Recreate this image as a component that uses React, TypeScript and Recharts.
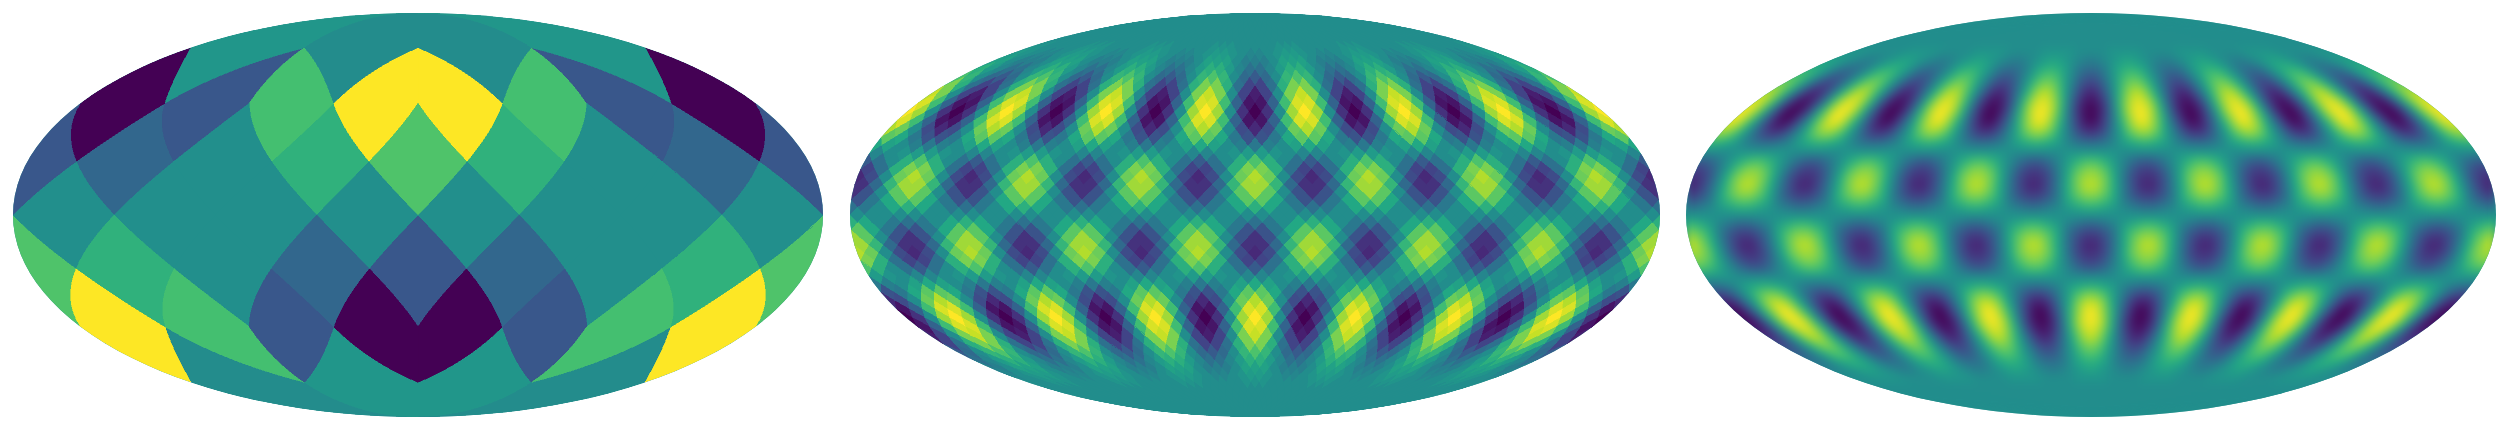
import { ScatterChart, Scatter, XAxis, YAxis } from "recharts";

// colours read per sky pixel, one row per base face: [x0y0, x1y0, x0y1, x1y1]
const coarseFaces = [
  [0.64, 0.7, 1.0, 0.48],
  [0.33, 0.0, 0.27, 0.52],
  [0.33, 0.27, 0.0, 0.52],
  [0.64, 1.0, 0.7, 0.48],
  [0.27, 0.49, 0.49, 0.72],
  [0.49, 0.49, 0.49, 0.49],
  [0.72, 0.49, 0.49, 0.27],
  [0.49, 0.49, 0.49, 0.49],
  [0.52, 0.27, 0.0, 0.33],
  [0.48, 1.0, 0.7, 0.64],
  [0.48, 0.7, 1.0, 0.64],
  [0.52, 0.0, 0.27, 0.33],
];

// one string per ring, north to south, one base-36 level per diamond
const mediumRings = [
  "hhhhhhhhhhhhhhhhhhhhhhhhhhhhhhhhhhhhhhhhhhhhhhhhhhhhhhhh",
  "hhhhhhhhhhhhhhhhhhhhhhhhhhhhhhhhhhhhhhhhhhhhhhhhhhhhhhhh",
  "hhhhhhhhhhhhhhhhhhhhhhhhhhhhhhhhhhhhhhhhhhhhhhhhhhhhhhhh",
  "hhhhhhhhhhhhhhhhhhhhhhhhhhhhhhhhhhhhhhhhhhhhhhhhhhhhhhhh",
  "hhhhhhhhhhhhhhhhhhhhhhhhhhhhhhhhhhhhhhhhhhhhhhhhhhhhhhhh",
  "hhhhhhhhhhhhhhhhhhhhhhhhhhhhhhhhhhhhhhhhhhhhhhhhhhhhhhhh",
  "iihhhhhiiihhhhhiiihhhhhiiihhhhhiiihhhhhiiihhhhhiiihhhhhi",
  "jihgghijjihgghijjihgghijjihgghijjihgghijjihgghijjihgghij",
  "kkhfffhkkkhfffhkkkhfffhkkkhfffhkkkhfffhkkkhfffhkkkhfffhk",
  "mjgddgjmmjgddgjmmjgddgjmmjgddgjmmjgddgjmmjgddgjmmjgddgjm",
  "pnhcachnpnhcachnpnhcachnpnhcachnpnhcachnpnhcachnpnhcachn",
  "smd77dmssmd77dmssmd77dmssmd77dmssmd77dmssmd77dmssmd77dms",
  "wsh737hswsh737hswsh737hswsh737hswsh737hswsh737hswsh737hs",
  "xob22boxxob22boxxob22boxxob22boxxob22boxxob22boxxob22box",
  "zuh505huzuh505huzuh505huzuh505huzuh505huzuh505huzuh505hu",
  "xob22boxxob22boxxob22boxxob22boxxob22boxxob22boxxob22box",
  "vrh848hrvrh848hrvrh848hrvrh848hrvrh848hrvrh848hrvrh848hr",
  "qle99elqqle99elqqle99elqqle99elqqle99elqqle99elqqle99elq",
  "lkhfefhklkhfefhklkhfefhklkhfefhklkhfefhklkhfefhklkhfefhk",
  "ghijjihgghijjihgghijjihgghijjihgghijjihgghijjihgghijjihg",
  "adhmpmhdadhmpmhdadhmpmhdadhmpmhdadhmpmhdadhmpmhdadhmpmhd",
  "7dmssmd77dmssmd77dmssmd77dmssmd77dmssmd77dmssmd77dmssmd7",
  "48hrvrh848hrvrh848hrvrh848hrvrh848hrvrh848hrvrh848hrvrh8",
  "5cnuunc55cnuunc55cnuunc55cnuunc55cnuunc55cnuunc55cnuunc5",
  "59hquqh959hquqh959hquqh959hquqh959hquqh959hquqh959hquqh9",
  "9elqqle99elqqle99elqqle99elqqle99elqqle99elqqle99elqqle9",
  "dehlmlhedehlmlhedehlmlhedehlmlhedehlmlhedehlmlhedehlmlhe",
  "hhhhhhhhhhhhhhhhhhhhhhhhhhhhhhhhhhhhhhhhhhhhhhhhhhhhhhhh",
  "mlhedehlmlhedehlmlhedehlmlhedehlmlhedehlmlhedehlmlhedehl",
  "qle99elqqle99elqqle99elqqle99elqqle99elqqle99elqqle99elq",
  "uqh959hquqh959hquqh959hquqh959hquqh959hquqh959hquqh959hq",
  "unc55cnuunc55cnuunc55cnuunc55cnuunc55cnuunc55cnuunc55cnu",
  "vrh848hrvrh848hrvrh848hrvrh848hrvrh848hrvrh848hrvrh848hr",
  "smd77dmssmd77dmssmd77dmssmd77dmssmd77dmssmd77dmssmd77dms",
  "pmhdadhmpmhdadhmpmhdadhmpmhdadhmpmhdadhmpmhdadhmpmhdadhm",
  "jihgghijjihgghijjihgghijjihgghijjihgghijjihgghijjihgghij",
  "efhklkhfefhklkhfefhklkhfefhklkhfefhklkhfefhklkhfefhklkhf",
  "9elqqle99elqqle99elqqle99elqqle99elqqle99elqqle99elqqle9",
  "48hrvrh848hrvrh848hrvrh848hrvrh848hrvrh848hrvrh848hrvrh8",
  "2boxxob22boxxob22boxxob22boxxob22boxxob22boxxob22boxxob2",
  "05huzuh505huzuh505huzuh505huzuh505huzuh505huzuh505huzuh5",
  "2boxxob22boxxob22boxxob22boxxob22boxxob22boxxob22boxxob2",
  "37hswsh737hswsh737hswsh737hswsh737hswsh737hswsh737hswsh7",
  "7dmssmd77dmssmd77dmssmd77dmssmd77dmssmd77dmssmd77dmssmd7",
  "achnpnhcachnpnhcachnpnhcachnpnhcachnpnhcachnpnhcachnpnhc",
  "dgjmmjgddgjmmjgddgjmmjgddgjmmjgddgjmmjgddgjmmjgddgjmmjgd",
  "ffhkkkhfffhkkkhfffhkkkhfffhkkkhfffhkkkhfffhkkkhfffhkkkhf",
  "ghijjihgghijjihgghijjihgghijjihgghijjihgghijjihgghijjihg",
  "hhhiiihhhhhiiihhhhhiiihhhhhiiihhhhhiiihhhhhiiihhhhhiiihh",
  "hhhhhhhhhhhhhhhhhhhhhhhhhhhhhhhhhhhhhhhhhhhhhhhhhhhhhhhh",
  "hhhhhhhhhhhhhhhhhhhhhhhhhhhhhhhhhhhhhhhhhhhhhhhhhhhhhhhh",
  "hhhhhhhhhhhhhhhhhhhhhhhhhhhhhhhhhhhhhhhhhhhhhhhhhhhhhhhh",
  "hhhhhhhhhhhhhhhhhhhhhhhhhhhhhhhhhhhhhhhhhhhhhhhhhhhhhhhh",
  "hhhhhhhhhhhhhhhhhhhhhhhhhhhhhhhhhhhhhhhhhhhhhhhhhhhhhhhh",
  "hhhhhhhhhhhhhhhhhhhhhhhhhhhhhhhhhhhhhhhhhhhhhhhhhhhhhhhh",
];

// one string per row, north to south, west to east
const fineRows = [
  "hhhhhhhhhhhhhhhhhhhhhhhhhhhhhhhhhhhhhhhhhhhhhhhhhhhhhhhhhhhhhhhhhhhhhhhhhhhhhhhhhhhh",
  "hhhhhhhhhhhhhhhhhhhhhhhhhhhhhhhhhhhhhhhhhhhhhhhhhhhhhhhhhhhhhhhhhhhhhhhhhhhhhhhhhhhh",
  "hhhhhhhhhhhhhhhhhhhhhhhhhhhhhhhhhhhhhhhhhhhhhhhhhhhhhhhhhhhhhhhhhhhhhhhhhhhhhhhhhhhh",
  "hhhhhhhhhhhhhhhhhhhhhhhhhhhhhhhhhhhhhhhhhhhhhhhhhhhhhhhhhhhhhhhhhhhhhhhhhhhhhhhhhhhh",
  "iiihhhhhhiiiiiihhhhhhiiiiiihhhhhhiiiiiihhhhhhiiiiiihhhhhhiiiiiihhhhhhiiiiiihhhhhhiii",
  "kjihgffghijkkjihgffghijkkjihgffghijkkjihgffghijkkjihgffghijkkjihgffghijkkjihgffghijk",
  "mljgeddegjlmmljgeddegjlmmljgeddegjlmmljgeddegjlmmljgeddegjlmmljgeddegjlmmljgeddegjlm",
  "pnjgcaacgjnppnjgcaacgjnppnjgcaacgjnppnjgcaacgjnppnjgcaacgjnppnjgcaacgjnppnjgcaacgjnp",
  "spkfa77afkpsspkfa77afkpsspkfa77afkpsspkfa77afkpsspkfa77afkpsspkfa77afkpsspkfa77afkps",
  "vrle8448elrvvrle8448elrvvrle8448elrvvrle8448elrvvrle8448elrvvrle8448elrvvrle8448elrv",
  "xtmd6226dmtxxtmd6226dmtxxtmd6226dmtxxtmd6226dmtxxtmd6226dmtxxtmd6226dmtxxtmd6226dmtx",
  "yumd5115dmuyyumd5115dmuyyumd5115dmuyyumd5115dmuyyumd5115dmuyyumd5115dmuyyumd5115dmuy",
  "ytmd6116dmtyytmd6116dmtyytmd6116dmtyytmd6116dmtyytmd6116dmtyytmd6116dmtyytmd6116dmty",
  "wsle7337elswwsle7337elswwsle7337elswwsle7337elswwsle7337elswwsle7337elswwsle7337elsw",
  "spkfa77afkpsspkfa77afkpsspkfa77afkpsspkfa77afkpsspkfa77afkpsspkfa77afkpsspkfa77afkps",
  "mljgeddegjlmmljgeddegjlmmljgeddegjlmmljgeddegjlmmljgeddegjlmmljgeddegjlmmljgeddegjlm",
  "hhhiiiiiihhhhhhiiiiiihhhhhhiiiiiihhhhhhiiiiiihhhhhhiiiiiihhhhhhiiiiiihhhhhhiiiiiihhh",
  "bdgjmoomjgdbbdgjmoomjgdbbdgjmoomjgdbbdgjmoomjgdbbdgjmoomjgdbbdgjmoomjgdbbdgjmoomjgdb",
  "7afkpsspkfa77afkpsspkfa77afkpsspkfa77afkpsspkfa77afkpsspkfa77afkpsspkfa77afkpsspkfa7",
  "58elruurle8558elruurle8558elruurle8558elruurle8558elruurle8558elruurle8558elruurle85",
  "48elrvvrle8448elrvvrle8448elrvvrle8448elrvvrle8448elrvvrle8448elrvvrle8448elrvvrle84",
  "69elqttqle9669elqttqle9669elqttqle9669elqttqle9669elqttqle9669elqttqle9669elqttqle96",
  "acfknppnkfcaacfknppnkfcaacfknppnkfcaacfknppnkfcaacfknppnkfcaacfknppnkfcaacfknppnkfca",
  "fghijkkjihgffghijkkjihgffghijkkjihgffghijkkjihgffghijkkjihgffghijkkjihgffghijkkjihgf",
  "kjihgffghijkkjihgffghijkkjihgffghijkkjihgffghijkkjihgffghijkkjihgffghijkkjihgffghijk",
  "pnkfcaacfknppnkfcaacfknppnkfcaacfknppnkfcaacfknppnkfcaacfknppnkfcaacfknppnkfcaacfknp",
  "tqle9669elqttqle9669elqttqle9669elqttqle9669elqttqle9669elqttqle9669elqttqle9669elqt",
  "vrle8448elrvvrle8448elrvvrle8448elrvvrle8448elrvvrle8448elrvvrle8448elrvvrle8448elrv",
  "urle8558elruurle8558elruurle8558elruurle8558elruurle8558elruurle8558elruurle8558elru",
  "spkfa77afkpsspkfa77afkpsspkfa77afkpsspkfa77afkpsspkfa77afkpsspkfa77afkpsspkfa77afkps",
  "omjgdbbdgjmoomjgdbbdgjmoomjgdbbdgjmoomjgdbbdgjmoomjgdbbdgjmoomjgdbbdgjmoomjgdbbdgjmo",
  "iiihhhhhhiiiiiihhhhhhiiiiiihhhhhhiiiiiihhhhhhiiiiiihhhhhhiiiiiihhhhhhiiiiiihhhhhhiii",
  "degjlmmljgeddegjlmmljgeddegjlmmljgeddegjlmmljgeddegjlmmljgeddegjlmmljgeddegjlmmljged",
  "7afkpsspkfa77afkpsspkfa77afkpsspkfa77afkpsspkfa77afkpsspkfa77afkpsspkfa77afkpsspkfa7",
  "37elswwsle7337elswwsle7337elswwsle7337elswwsle7337elswwsle7337elswwsle7337elswwsle73",
  "16dmtyytmd6116dmtyytmd6116dmtyytmd6116dmtyytmd6116dmtyytmd6116dmtyytmd6116dmtyytmd61",
  "15dmuyyumd5115dmuyyumd5115dmuyyumd5115dmuyyumd5115dmuyyumd5115dmuyyumd5115dmuyyumd51",
  "26dmtxxtmd6226dmtxxtmd6226dmtxxtmd6226dmtxxtmd6226dmtxxtmd6226dmtxxtmd6226dmtxxtmd62",
  "48elrvvrle8448elrvvrle8448elrvvrle8448elrvvrle8448elrvvrle8448elrvvrle8448elrvvrle84",
  "7afkpsspkfa77afkpsspkfa77afkpsspkfa77afkpsspkfa77afkpsspkfa77afkpsspkfa77afkpsspkfa7",
  "acgjnppnjgcaacgjnppnjgcaacgjnppnjgcaacgjnppnjgcaacgjnppnjgcaacgjnppnjgcaacgjnppnjgca",
  "degjlmmljgeddegjlmmljgeddegjlmmljgeddegjlmmljgeddegjlmmljgeddegjlmmljgeddegjlmmljged",
  "fghijkkjihgffghijkkjihgffghijkkjihgffghijkkjihgffghijkkjihgffghijkkjihgffghijkkjihgf",
  "hhhiiiiiihhhhhhiiiiiihhhhhhiiiiiihhhhhhiiiiiihhhhhhiiiiiihhhhhhiiiiiihhhhhhiiiiiihhh",
  "hhhhhhhhhhhhhhhhhhhhhhhhhhhhhhhhhhhhhhhhhhhhhhhhhhhhhhhhhhhhhhhhhhhhhhhhhhhhhhhhhhhh",
  "hhhhhhhhhhhhhhhhhhhhhhhhhhhhhhhhhhhhhhhhhhhhhhhhhhhhhhhhhhhhhhhhhhhhhhhhhhhhhhhhhhhh",
  "hhhhhhhhhhhhhhhhhhhhhhhhhhhhhhhhhhhhhhhhhhhhhhhhhhhhhhhhhhhhhhhhhhhhhhhhhhhhhhhhhhhh",
  "hhhhhhhhhhhhhhhhhhhhhhhhhhhhhhhhhhhhhhhhhhhhhhhhhhhhhhhhhhhhhhhhhhhhhhhhhhhhhhhhhhhh",
];

const viridisStops = ["#440154", "#482475", "#414487", "#355f8d", "#2a788e", "#21918c", "#22a884", "#44bf70", "#7ad151", "#bddf26", "#fde725"];

const PANEL_W = 810;
const PANEL_H = 404;
const PANEL_TOP = 13;
const panelLefts = [13, 850, 1686];

const hexPart = (c: string, i: number) => parseInt(c.slice(1 + i * 2, 3 + i * 2), 16);
const viridis = (v: number) => {
  const t = Math.min(Math.max(v, 0), 1) * 10;
  const i = Math.min(Math.floor(t), 9);
  const mix = [0, 1, 2].map((k) =>
    Math.round(hexPart(viridisStops[i], k) + (hexPart(viridisStops[i + 1], k) - hexPart(viridisStops[i], k)) * (t - i))
  );
  return `rgb(${mix.join(",")})`;
};

// Mollweide auxiliary angle for z = sin(latitude)
const auxAngle = (z: number) => {
  let lo = -Math.PI / 2;
  let hi = Math.PI / 2;
  for (let i = 0; i < 40; i++) {
    const mid = (lo + hi) / 2;
    if (2 * mid + Math.sin(2 * mid) < Math.PI * z) lo = mid;
    else hi = mid;
  }
  return (lo + hi) / 2;
};
const project = (lon: number, z: number): [number, number] => {
  const a = auxAngle(z);
  return [lon * Math.cos(a), 90 * Math.sin(a)];
};

type Cell = { x: number; y: number; v: number; poly: [number, number][] };

const makeCell = (center: [number, number], corners: [number, number][], v: number): Cell => ({
  x: center[0],
  y: center[1],
  v,
  poly: corners.map(([px, py]) => [px - center[0], py - center[1]]),
});

// sky position of a point on a base face (x, y in 0..1)
const JRLL = [2, 2, 2, 2, 3, 3, 3, 3, 4, 4, 4, 4];
const JPLL = [1, 3, 5, 7, 0, 2, 4, 6, 1, 3, 5, 7];
const faceToSky = (f: number, x: number, y: number): [number, number] => {
  const jr = JRLL[f] - x - y;
  let nr = 1;
  let z = ((2 - jr) * 2) / 3;
  if (jr < 1) {
    nr = jr;
    z = 1 - (nr * nr) / 3;
  } else if (jr > 3) {
    nr = 4 - jr;
    z = (nr * nr) / 3 - 1;
  }
  const tmp = JPLL[f] * nr + x - y;
  return [nr < 1e-9 ? JPLL[f] * 45 : (45 * tmp) / nr, z];
};

const coarseCells: Cell[] = [];
coarseFaces.forEach((vals, f) => {
  vals.forEach((v, idx) => {
    const ix = idx % 2;
    const iy = (idx - ix) / 2;
    const edge: [number, number][] = [];
    const steps = 16;
    for (let s = 0; s < steps; s++) edge.push([ix + s / steps, iy]);
    for (let s = 0; s < steps; s++) edge.push([ix + 1, iy + s / steps]);
    for (let s = 0; s < steps; s++) edge.push([ix + 1 - s / steps, iy + 1]);
    for (let s = 0; s < steps; s++) edge.push([ix, iy + 1 - s / steps]);
    const [phi, zc] = faceToSky(f, (ix + 0.5) / 2, (iy + 0.5) / 2);
    const lonC = ((phi + 180) % 360) - 180;
    const lonCenter = phi === 180 ? 180 : lonC;
    const shifts = phi === 180 ? [0, -360] : [lonCenter - phi];
    shifts.forEach((shift) => {
      const corners = edge.map(([ex, ey]) => {
        const [p, z] = faceToSky(f, ex / 2, ey / 2);
        return project(p + shift, z);
      });
      coarseCells.push(makeCell(project(phi + shift, zc), corners, v));
    });
  });
});

const NS = 14;
const ringZ = (i: number) => {
  if (i <= 0) return 1;
  if (i >= 4 * NS) return -1;
  if (i < NS) return 1 - (i * i) / (3 * NS * NS);
  if (i > 3 * NS) return -1 + ((4 * NS - i) * (4 * NS - i)) / (3 * NS * NS);
  return 4 / 3 - (2 * i) / (3 * NS);
};
const mediumCells: Cell[] = [];
mediumRings.forEach((row, r) => {
  const i = r + 1;
  const s = i % 2 === 0 ? 1 : 0;
  const d = 360 / row.length;
  [...row].forEach((ch, j) => {
    const v = parseInt(ch, 36) / 35;
    const lons = [-180 + (j + s / 2) * d];
    if (s === 0 && j === 0) lons.push(180);
    lons.forEach((lon) => {
      const corners = [
        project(lon, ringZ(i - 1)),
        project(lon + d / 2, ringZ(i)),
        project(lon, ringZ(i + 1)),
        project(lon - d / 2, ringZ(i)),
      ];
      mediumCells.push(makeCell(project(lon, ringZ(i)), corners, v));
    });
  });
});

const fineCells: Cell[] = [];
fineRows.forEach((row, r) => {
  const n = fineRows.length;
  const sTop = 1 - (2 * r) / n;
  const sBot = 1 - (2 * (r + 1)) / n;
  const cosTop = Math.sqrt(Math.max(0, 1 - sTop * sTop));
  const cosBot = Math.sqrt(Math.max(0, 1 - sBot * sBot));
  const d = 360 / row.length;
  [...row].forEach((ch, j) => {
    // the outer columns run past the rim so the blur has no light edge to pick up
    const l0 = j === 0 ? -230 : -180 + j * d;
    const l1 = j === row.length - 1 ? 230 : -180 + (j + 1) * d;
    const sMid = (sTop + sBot) / 2;
    const lonC = -180 + (j + 0.5) * d;
    const corners: [number, number][] = [
      [l0 * cosTop, 90 * sTop],
      [l1 * cosTop, 90 * sTop],
      [l1 * cosBot, 90 * sBot],
      [l0 * cosBot, 90 * sBot],
    ];
    fineCells.push(makeCell([lonC * Math.sqrt(1 - sMid * sMid), 90 * sMid], corners, parseInt(ch, 36) / 35));
  });
});

const CellShape = (props: any) => {
  const { cx, cy, payload } = props;
  const points = payload.poly
    .map(([dx, dy]: [number, number]) => `${cx + (dx * PANEL_W) / 360},${cy - (dy * PANEL_H) / 180}`)
    .join(" ");
  const fill = viridis(payload.v);
  return <polygon points={points} fill={fill} stroke={fill} strokeWidth={0.6} shapeRendering="crispEdges" />;
};

const MapPanel = ({ cells, left, blur = 0 }: { cells: Cell[]; left: number; blur?: number }) => (
  <div
    style={{
      position: "absolute",
      left,
      top: PANEL_TOP,
      width: PANEL_W,
      height: PANEL_H,
      background: viridis(0.5),
      clipPath: "ellipse(50% 50% at 50% 50%)",
    }}
  >
    <div style={{ filter: blur ? `blur(${blur}px)` : undefined }}>
      <ScatterChart width={PANEL_W} height={PANEL_H} margin={{ top: 0, right: 0, bottom: 0, left: 0 }}>
        <XAxis type="number" dataKey="x" domain={[-180, 180]} hide />
        <YAxis type="number" dataKey="y" domain={[-90, 90]} hide />
        <Scatter data={cells} shape={CellShape} isAnimationActive={false} />
      </ScatterChart>
    </div>
  </div>
);

export default function App() {
  return (
    <div style={{ position: "absolute", left: 0, top: 0, width: 2508, height: 432, background: "#fff", overflow: "hidden" }}>
      <MapPanel cells={coarseCells} left={panelLefts[0]} />
      <MapPanel cells={mediumCells} left={panelLefts[1]} />
      <MapPanel cells={fineCells} left={panelLefts[2]} blur={4} />
    </div>
  );
}
